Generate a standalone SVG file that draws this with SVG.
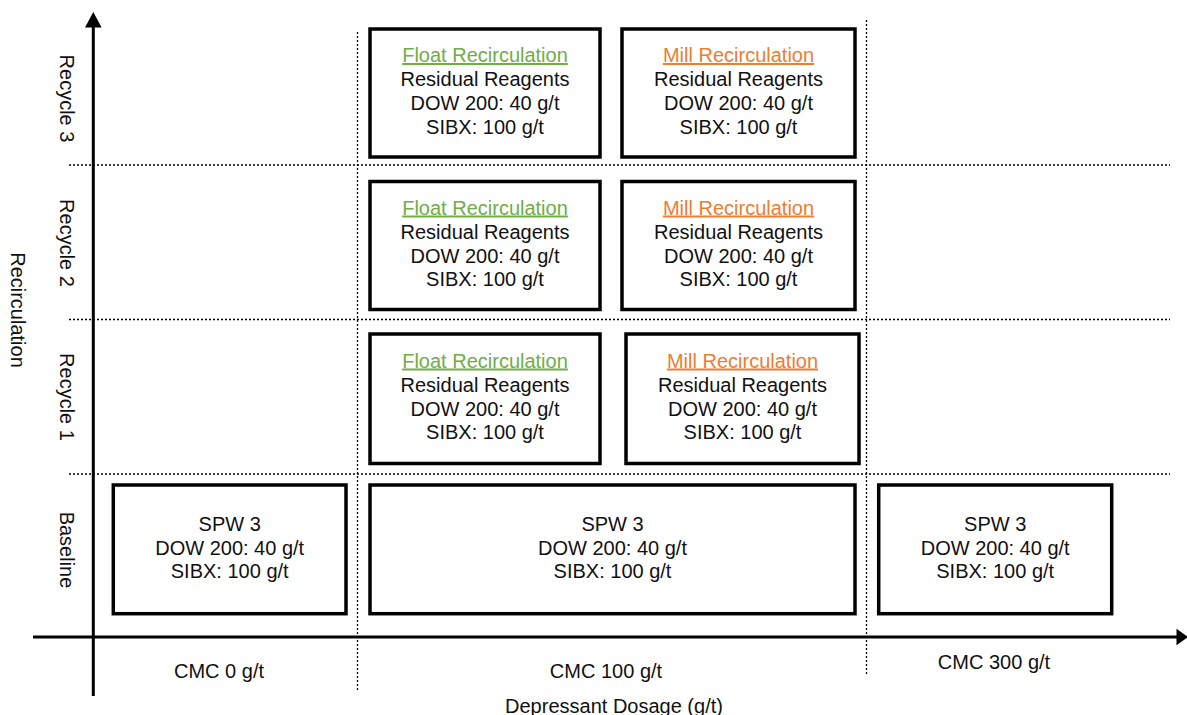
<svg xmlns="http://www.w3.org/2000/svg" width="1187" height="715" viewBox="0 0 1187 715">
  <defs>
    <style>
      text { font-family: "Liberation Sans", Arial, sans-serif; font-size: 20px; fill: #111; text-anchor: middle; }
      .box { fill: #fff; stroke: #000; stroke-width: 3.5; }
      .grid { stroke: #000; stroke-width: 1.3; stroke-dasharray: 2 2; fill: none; }
      .axis { stroke: #000; stroke-width: 3; fill: none; }
      .float { fill: #70AD47; text-decoration: underline; }
      .mill { fill: #ED7D31; text-decoration: underline; }
    </style>
  </defs>
  <rect width="1187" height="715" fill="#fff"/>

  <!-- dotted grid separating rows and dosage columns -->
  <g id="grid">
    <line class="grid" x1="69" y1="165" x2="1170" y2="165"/>
    <line class="grid" x1="69" y1="319.5" x2="1170" y2="319.5"/>
    <line class="grid" x1="69" y1="474" x2="1170" y2="474"/>
    <line class="grid" x1="357.5" y1="32" x2="357.5" y2="692"/>
    <line class="grid" x1="866.5" y1="20" x2="866.5" y2="675"/>
  </g>

  <!-- axes -->
  <g id="connectors">
    <line class="axis" x1="93.3" y1="26" x2="93.3" y2="696"/>
    <polygon points="93.3,12 85,27.5 101.6,27.5" fill="#000"/>
    <line class="axis" x1="33" y1="637" x2="1178" y2="637"/>
    <polygon points="1188,637 1176.5,628.8 1176.5,645.2" fill="#000"/>
  </g>

  <!-- axis labels -->
  <g id="y-labels">
    <text transform="translate(59.5,98.5) rotate(90)">Recycle 3</text>
    <text transform="translate(59.5,243) rotate(90)">Recycle 2</text>
    <text transform="translate(59.5,397) rotate(90)">Recycle 1</text>
    <text transform="translate(59.5,550) rotate(90)">Baseline</text>
    <text transform="translate(11,310) rotate(90)">Recirculation</text>
  </g>
  <g id="x-labels">
    <text x="219" y="677.5">CMC 0 g/t</text>
    <text x="606" y="677.5">CMC 100 g/t</text>
    <text x="994" y="669">CMC 300 g/t</text>
    <text x="614" y="713.3">Depressant Dosage (g/t)</text>
  </g>

  <!-- Recycle 3 -->
  <g id="r3-float">
    <rect class="box" x="370" y="29" width="230" height="128"/>
    <text class="float" x="485" y="62">Float Recirculation</text>
    <text x="485" y="86">Residual Reagents</text>
    <text x="485" y="110">DOW 200: 40 g/t</text>
    <text x="485" y="133.5">SIBX: 100 g/t</text>
  </g>
  <g id="r3-mill">
    <rect class="box" x="622" y="29" width="233" height="128"/>
    <text class="mill" x="738.5" y="62">Mill Recirculation</text>
    <text x="738.5" y="86">Residual Reagents</text>
    <text x="738.5" y="110">DOW 200: 40 g/t</text>
    <text x="738.5" y="133.5">SIBX: 100 g/t</text>
  </g>

  <!-- Recycle 2 -->
  <g id="r2-float">
    <rect class="box" x="370" y="181.5" width="230" height="128"/>
    <text class="float" x="485" y="214.5">Float Recirculation</text>
    <text x="485" y="238.5">Residual Reagents</text>
    <text x="485" y="262.5">DOW 200: 40 g/t</text>
    <text x="485" y="286">SIBX: 100 g/t</text>
  </g>
  <g id="r2-mill">
    <rect class="box" x="622" y="181.5" width="233" height="128"/>
    <text class="mill" x="738.5" y="214.5">Mill Recirculation</text>
    <text x="738.5" y="238.5">Residual Reagents</text>
    <text x="738.5" y="262.5">DOW 200: 40 g/t</text>
    <text x="738.5" y="286">SIBX: 100 g/t</text>
  </g>

  <!-- Recycle 1 -->
  <g id="r1-float">
    <rect class="box" x="370" y="334" width="230" height="129.5"/>
    <text class="float" x="485" y="367.5">Float Recirculation</text>
    <text x="485" y="391.5">Residual Reagents</text>
    <text x="485" y="415.5">DOW 200: 40 g/t</text>
    <text x="485" y="439">SIBX: 100 g/t</text>
  </g>
  <g id="r1-mill">
    <rect class="box" x="626" y="334" width="233" height="129.5"/>
    <text class="mill" x="742.5" y="367.5">Mill Recirculation</text>
    <text x="742.5" y="391.5">Residual Reagents</text>
    <text x="742.5" y="415.5">DOW 200: 40 g/t</text>
    <text x="742.5" y="439">SIBX: 100 g/t</text>
  </g>

  <!-- Baseline -->
  <g id="base-cmc0">
    <rect class="box" x="113.3" y="485" width="232.7" height="128.7"/>
    <text x="229.7" y="530.5">SPW 3</text>
    <text x="229.7" y="554.5">DOW 200: 40 g/t</text>
    <text x="229.7" y="578">SIBX: 100 g/t</text>
  </g>
  <g id="base-cmc100">
    <rect class="box" x="370" y="485" width="485" height="128.7"/>
    <text x="612.5" y="530.5">SPW 3</text>
    <text x="612.5" y="554.5">DOW 200: 40 g/t</text>
    <text x="612.5" y="578">SIBX: 100 g/t</text>
  </g>
  <g id="base-cmc300">
    <rect class="box" x="878.7" y="485" width="233" height="128.7"/>
    <text x="995.2" y="530.5">SPW 3</text>
    <text x="995.2" y="554.5">DOW 200: 40 g/t</text>
    <text x="995.2" y="578">SIBX: 100 g/t</text>
  </g>
</svg>
